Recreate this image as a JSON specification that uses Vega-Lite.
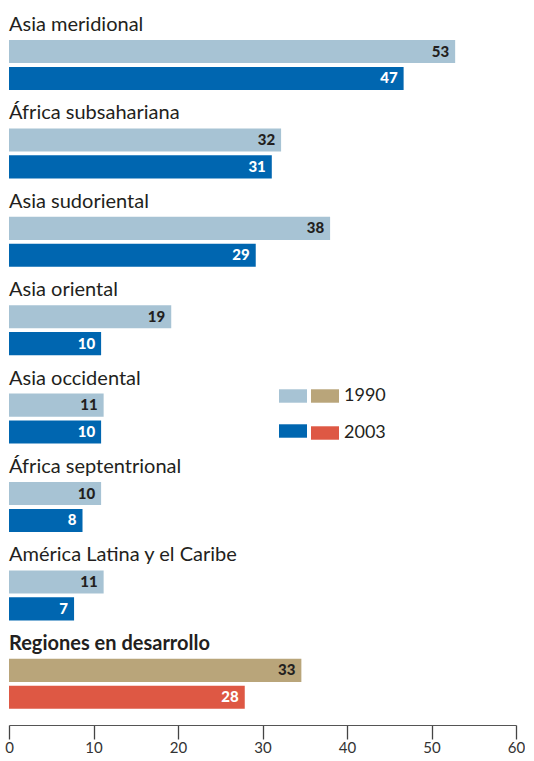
{
  "$schema": "https://vega.github.io/schema/vega-lite/v6.json",
  "padding": {"left": 4, "top": 15, "right": 0, "bottom": 0},
  "background": "white",
  "data": {"values": [
    {"region": "Asia meridional", "grupo": "r", "year": "1990", "periodo": "1990", "v": 52.8, "label": 53},
    {"region": "Asia meridional", "grupo": "r", "year": "2003", "periodo": "2003", "v": 46.7, "label": 47},
    {"region": "África subsahariana", "grupo": "r", "year": "1990", "periodo": "1990", "v": 32.2, "label": 32},
    {"region": "África subsahariana", "grupo": "r", "year": "2003", "periodo": "2003", "v": 31.1, "label": 31},
    {"region": "Asia sudoriental", "grupo": "r", "year": "1990", "periodo": "1990", "v": 38.0, "label": 38},
    {"region": "Asia sudoriental", "grupo": "r", "year": "2003", "periodo": "2003", "v": 29.2, "label": 29},
    {"region": "Asia oriental", "grupo": "r", "year": "1990", "periodo": "1990", "v": 19.2, "label": 19},
    {"region": "Asia oriental", "grupo": "r", "year": "2003", "periodo": "2003", "v": 10.9, "label": 10},
    {"region": "Asia occidental", "grupo": "r", "year": "1990", "periodo": "1990", "v": 11.2, "label": 11},
    {"region": "Asia occidental", "grupo": "r", "year": "2003", "periodo": "2003", "v": 10.9, "label": 10},
    {"region": "África septentrional", "grupo": "r", "year": "1990", "periodo": "1990", "v": 10.9, "label": 10},
    {"region": "África septentrional", "grupo": "r", "year": "2003", "periodo": "2003", "v": 8.7, "label": 8},
    {"region": "América Latina y el Caribe", "grupo": "r", "year": "1990", "periodo": "1990", "v": 11.2, "label": 11},
    {"region": "América Latina y el Caribe", "grupo": "r", "year": "2003", "periodo": "2003", "v": 7.7, "label": 7},
    {"region": "Regiones en desarrollo", "grupo": "d", "year": "1990", "periodo": "1990", "v": 34.6, "label": 33},
    {"region": "Regiones en desarrollo", "grupo": "d", "year": "2003", "periodo": "2003", "v": 27.9, "label": 28}
  ]},
  "facet": {
    "field": "region",
    "type": "nominal",
    "sort": ["Asia meridional", "África subsahariana", "Asia sudoriental", "Asia oriental", "Asia occidental", "África septentrional", "América Latina y el Caribe", "Regiones en desarrollo"],
    "header": {
      "title": null,
      "labelFont": "Lato",
      "labelFontSize": 20,
      "labelColor": "#231f20",
      "labelAnchor": "start",
      "labelAlign": "left",
      "labelBaseline": "alphabetic",
      "labelPadding": -11,
      "labelFontWeight": {"expr": "parent['region'] == 'Regiones en desarrollo' ? 'bold' : 'normal'"}
    }
  },
  "columns": 1,
  "spacing": 13.4,
  "spec": {
    "width": 507,
    "height": 50,
    "encoding": {
      "y": {"field": "year", "type": "nominal", "axis": null, "scale": {"paddingInner": 0.14, "paddingOuter": 0}},
      "x": {
        "field": "v", "type": "quantitative", "title": null,
        "scale": {"domain": [0, 60], "nice": false},
        "axis": {
          "values": [0, 10, 20, 30, 40, 50, 60],
          "grid": false, "offset": 16, "tickSize": 14, "tickColor": "#444", "domainColor": "#555",
          "tickWidth": 1.3, "domainWidth": 1.2,
          "labelFont": "Lato", "labelFontSize": 15, "labelColor": "#333", "labelPadding": 1,
          "labelFlush": false, "labelOverlap": false
        }
      }
    },
    "layer": [
      {
        "transform": [{"filter": "datum.grupo == 'r'"}],
        "mark": {"type": "bar"},
        "encoding": {
          "color": {
            "field": "year", "type": "nominal",
            "scale": {"domain": ["1990", "2003"], "range": ["#a7c3d4", "#0066b0"]},
            "legend": {
              "title": null, "orient": "none", "legendX": 270, "legendY": 342,
              "symbolType": "M-1,-0.48H1V0.48H-1Z", "symbolSize": 784, "symbolStrokeWidth": 0, "symbolOpacity": 1,
              "labelExpr": "''", "rowPadding": 14
            }
          }
        }
      },
      {
        "transform": [{"filter": "datum.grupo == 'd'"}],
        "mark": {"type": "bar"},
        "encoding": {
          "fill": {
            "field": "periodo", "type": "nominal",
            "scale": {"range": ["#b9a57a", "#de5844"]},
            "legend": {
              "title": null, "orient": "none", "legendX": 302, "legendY": 342,
              "symbolType": "M-1,-0.48H1V0.48H-1Z", "symbolSize": 784, "symbolStrokeWidth": 0, "symbolOpacity": 1,
              "labelFont": "Lato", "labelFontSize": 18, "labelColor": "#231f20", "labelOffset": 5, "rowPadding": 14
            }
          }
        }
      },
      {
        "mark": {"type": "text", "align": "right", "baseline": "middle", "dx": -6, "font": "Lato", "fontSize": 15, "fontWeight": 900},
        "encoding": {
          "text": {"field": "label", "type": "quantitative"},
          "color": {"condition": {"test": "datum.year == '1990'", "value": "#231f20"}, "value": "white"}
        }
      }
    ]
  },
  "config": {"view": {"stroke": null}}
}
